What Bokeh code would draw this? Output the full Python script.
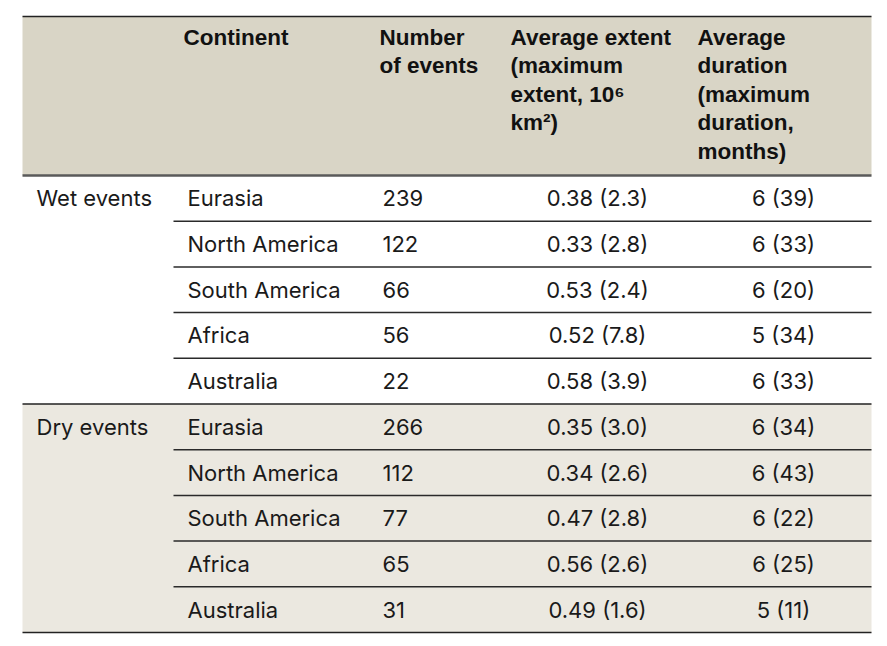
from bokeh.plotting import figure
from bokeh.models import Range1d, ColumnDataSource
from bokeh.core.properties import value
from bokeh.embed import file_html
from bokeh.resources import INLINE

# ---- data ----
groups = ["Wet events", "Dry events"]
continents = ["Eurasia", "North America", "South America", "Africa", "Australia"]
headers = ["Continent", "Number\nof events",
           "Average extent\n(maximum\nextent, 10\u2076\nkm\u00b2)",
           "Average\nduration\n(maximum\nduration,\nmonths)"]
wet_n = [239, 122, 66, 56, 22]
wet_ext = ["0.38", "0.33", "0.53", "0.52", "0.58"]
wet_ext_max = ["2.3", "2.8", "2.4", "7.8", "3.9"]
wet_dur = [6, 6, 6, 5, 6]
wet_dur_max = [39, 33, 20, 34, 33]
dry_n = [266, 112, 77, 65, 31]
dry_ext = ["0.35", "0.34", "0.47", "0.56", "0.49"]
dry_ext_max = ["3.0", "2.6", "2.8", "2.6", "1.6"]
dry_dur = [6, 6, 6, 6, 5]
dry_dur_max = [34, 43, 22, 25, 11]

# ---- layout (page pixel coordinates) ----
X0, X1 = 22, 871
TOP, HEAD_BOTTOM, BOTTOM = 16, 175, 632
ROW_H = (BOTTOM - HEAD_BOTTOM) / 10.0
COL_GROUP, COL_CONT, COL_NUM, COL_EXT, COL_DUR = 36, 187, 382, 597, 783
HEAD_X = [183, 379, 510, 697]
SEP_X0 = 173

W, H = 879, 640
p = figure(width=W, height=H, x_range=Range1d(0, W), y_range=Range1d(H, 0),
           output_backend="svg", toolbar_location=None, min_border=0)
p.axis.visible = False
p.grid.visible = False
p.outline_line_color = None
p.background_fill_color = "white"
p.border_fill_color = "white"

# backgrounds
p.quad(left=[X0], right=[X1], top=[TOP], bottom=[HEAD_BOTTOM],
       fill_color="#d9d5c6", line_color=None)
dry_top = HEAD_BOTTOM + 5 * ROW_H
p.quad(left=[X0], right=[X1], top=[dry_top], bottom=[BOTTOM],
       fill_color="#ebe8e0", line_color=None)

# header text
p.text(x=HEAD_X, y=[24] * 4, text=headers, text_font=value("Liberation Sans"),
       text_font_style="bold", text_font_size="22.5px", text_baseline="top",
       text_line_height=1.14, text_color="#111111")

# rows
rows = []
for gi, (n, e, em, d, dm) in enumerate([(wet_n, wet_ext, wet_ext_max, wet_dur, wet_dur_max),
                                        (dry_n, dry_ext, dry_ext_max, dry_dur, dry_dur_max)]):
    for i, c in enumerate(continents):
        rows.append(dict(y=HEAD_BOTTOM + (gi * 5 + i + 0.5) * ROW_H, cont=c, n=str(n[i]),
                         ext=f"{e[i]} ({em[i]})", dur=f"{d[i]} ({dm[i]})"))
src = ColumnDataSource(dict(
    y=[r["y"] for r in rows], cont=[r["cont"] for r in rows], n=[r["n"] for r in rows],
    ext=[r["ext"] for r in rows], dur=[r["dur"] for r in rows]))

common = dict(source=src, y="y", text_font=value("Inter"), text_font_size="22px",
              text_baseline="middle", text_color="#1a1a1a")
p.text(x=COL_CONT, text="cont", text_align="left", **common)
p.text(x=COL_NUM, text="n", text_align="left", **common)
p.text(x=COL_EXT, text="ext", text_align="center", **common)
p.text(x=COL_DUR, text="dur", text_align="center", **common)

p.text(x=[COL_GROUP] * 2, y=[HEAD_BOTTOM + 0.5 * ROW_H, dry_top + 0.5 * ROW_H], text=groups,
       text_font=value("Inter"), text_font_size="22px", text_baseline="middle",
       text_color="#1a1a1a")

# separators
seps = []
for gi in range(2):
    for i in range(1, 5):
        seps.append(HEAD_BOTTOM + (gi * 5 + i) * ROW_H)
p.segment(x0=[SEP_X0] * len(seps), x1=[X1] * len(seps), y0=seps, y1=seps,
          line_color="#2a2a2a", line_width=1.5)
p.segment(x0=[X0] * 3, x1=[X1] * 3, y0=[TOP, dry_top, BOTTOM], y1=[TOP, dry_top, BOTTOM],
          line_color="#222222", line_width=1.5)
p.segment(x0=[X0], x1=[X1], y0=[HEAD_BOTTOM], y1=[HEAD_BOTTOM],
          line_color="#5a5a5a", line_width=2.5)

open("out.html", "w").write(file_html(p, INLINE))
